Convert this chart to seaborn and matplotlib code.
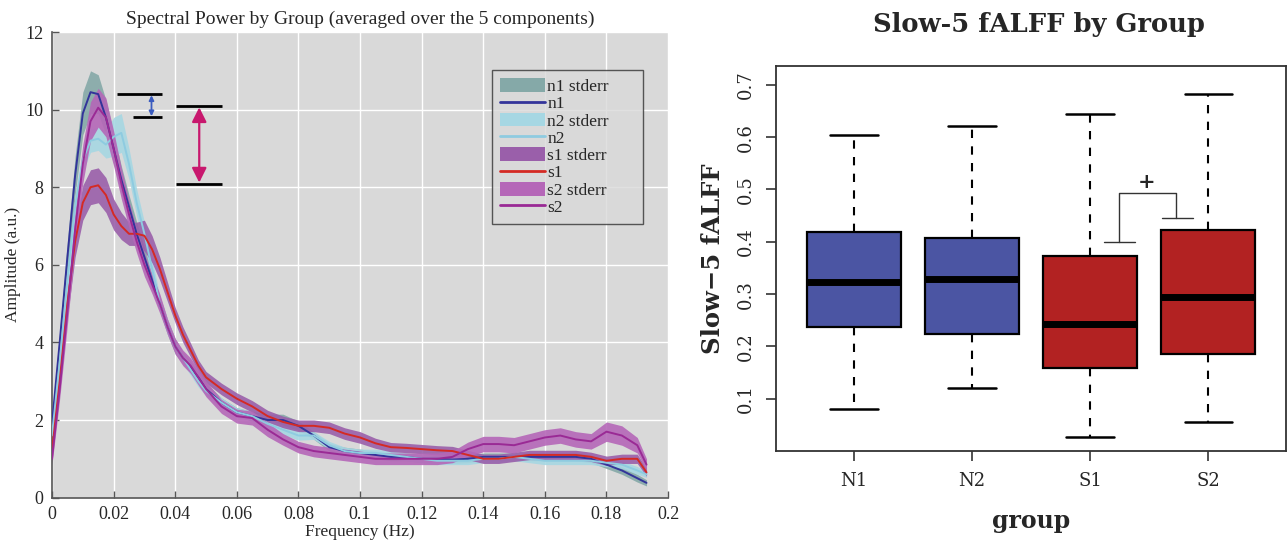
import numpy as np
import pandas as pd
import matplotlib
matplotlib.use("Agg")
import matplotlib.pyplot as plt
from matplotlib.patches import Patch
from matplotlib.lines import Line2D
import seaborn as sns

# ---- spectral power data ----
freq = [0, 0.0025, 0.005, 0.0075, 0.01, 0.0125, 0.015, 0.0175, 0.02, 0.0225,
        0.025, 0.0275, 0.03, 0.0325, 0.035, 0.0375, 0.04, 0.0425, 0.045, 0.0475,
        0.05, 0.055, 0.06, 0.065, 0.07, 0.075, 0.08, 0.085, 0.09, 0.095,
        0.1, 0.105, 0.11, 0.115, 0.12, 0.125, 0.13, 0.135, 0.14, 0.145,
        0.15, 0.155, 0.16, 0.165, 0.17, 0.175, 0.18, 0.185, 0.19, 0.193]

n1 = [1.9, 4.0, 6.2, 8.3, 9.9, 10.45, 10.4, 9.8, 9.0, 8.2,
      7.5, 6.8, 6.2, 5.6, 5.0, 4.4, 3.9, 3.6, 3.35, 3.1,
      2.8, 2.45, 2.2, 2.1, 2.0, 2.0, 1.85, 1.6, 1.3, 1.2,
      1.15, 1.1, 1.05, 1.05, 1.0, 1.0, 0.98, 1.0, 1.05, 1.05,
      1.05, 1.05, 1.05, 1.05, 1.05, 1.0, 0.85, 0.7, 0.5, 0.38]
n1_se = [0.2, 0.3, 0.4, 0.5, 0.55, 0.55, 0.5, 0.45, 0.4, 0.35,
         0.3, 0.3, 0.25, 0.25, 0.2, 0.2, 0.2, 0.15, 0.15, 0.15,
         0.15, 0.12, 0.12, 0.12, 0.15, 0.15, 0.12, 0.1, 0.1, 0.1,
         0.1, 0.1, 0.1, 0.1, 0.1, 0.1, 0.1, 0.1, 0.1, 0.1,
         0.1, 0.1, 0.1, 0.1, 0.1, 0.1, 0.1, 0.1, 0.1, 0.08]

n2 = [1.6, 3.5, 5.6, 7.5, 8.7, 9.2, 9.25, 9.1, 9.3, 9.4,
      8.6, 7.6, 6.8, 5.9, 5.0, 4.4, 3.9, 3.6, 3.3, 3.0,
      2.75, 2.45, 2.2, 2.1, 1.9, 1.75, 1.6, 1.6, 1.35, 1.2,
      1.15, 1.15, 1.1, 1.05, 1.0, 0.95, 0.95, 0.95, 1.0, 1.0,
      1.05, 1.0, 0.95, 0.95, 0.95, 0.95, 0.9, 0.85, 0.7, 0.6]
n2_se = [0.2, 0.25, 0.3, 0.3, 0.3, 0.3, 0.3, 0.35, 0.5, 0.5,
         0.4, 0.35, 0.3, 0.25, 0.2, 0.2, 0.15, 0.15, 0.15, 0.15,
         0.12, 0.12, 0.12, 0.12, 0.12, 0.12, 0.12, 0.1, 0.1, 0.1,
         0.1, 0.1, 0.1, 0.1, 0.1, 0.1, 0.1, 0.1, 0.1, 0.1,
         0.1, 0.1, 0.1, 0.1, 0.1, 0.1, 0.1, 0.1, 0.1, 0.08]

s1 = [1.2, 3.0, 5.0, 6.6, 7.6, 8.0, 8.05, 7.8, 7.3, 7.0,
      6.8, 6.8, 6.75, 6.4, 5.9, 5.3, 4.7, 4.2, 3.8, 3.4,
      3.1, 2.8, 2.55, 2.35, 2.1, 1.95, 1.85, 1.85, 1.8, 1.65,
      1.55, 1.4, 1.3, 1.28, 1.25, 1.22, 1.2, 1.1, 1.0, 1.0,
      1.05, 1.1, 1.1, 1.1, 1.1, 1.05, 0.95, 1.0, 1.0, 0.65]
s1_se = [0.15, 0.25, 0.35, 0.4, 0.45, 0.45, 0.45, 0.45, 0.4, 0.35,
         0.3, 0.3, 0.4, 0.35, 0.3, 0.25, 0.2, 0.2, 0.18, 0.15,
         0.15, 0.15, 0.15, 0.15, 0.15, 0.15, 0.15, 0.15, 0.15, 0.15,
         0.15, 0.13, 0.12, 0.12, 0.12, 0.12, 0.12, 0.12, 0.12, 0.12,
         0.12, 0.12, 0.12, 0.12, 0.12, 0.12, 0.12, 0.12, 0.12, 0.1]

s2 = [1.0, 2.8, 4.8, 6.9, 8.6, 9.7, 10.05, 9.8, 9.0, 8.1,
      7.3, 6.6, 6.0, 5.5, 5.0, 4.4, 3.9, 3.6, 3.4, 3.1,
      2.8, 2.35, 2.1, 2.05, 1.75, 1.5, 1.3, 1.2, 1.15, 1.1,
      1.05, 1.0, 1.0, 1.0, 1.0, 1.0, 1.05, 1.25, 1.38, 1.38,
      1.35, 1.45, 1.55, 1.6, 1.5, 1.45, 1.7, 1.6, 1.35, 0.85]
s2_se = [0.15, 0.25, 0.35, 0.45, 0.5, 0.5, 0.5, 0.5, 0.45, 0.4,
         0.35, 0.3, 0.3, 0.25, 0.25, 0.2, 0.2, 0.2, 0.2, 0.2,
         0.2, 0.18, 0.18, 0.18, 0.18, 0.15, 0.15, 0.15, 0.15, 0.15,
         0.15, 0.15, 0.15, 0.15, 0.15, 0.15, 0.15, 0.18, 0.2, 0.2,
         0.2, 0.2, 0.2, 0.2, 0.2, 0.2, 0.25, 0.25, 0.2, 0.15]

groups_spec = ["n1", "n2", "s1", "s2"]
band_colors = ["#85a9a8", "#a6d7e3", "#9a5faa", "#b567b8"]
line_colors = ["#33349a", "#8ecbe0", "#d42a24", "#9a2a95"]

# ---- fALFF box data: five-number summary per group ----
box_groups = ["N1", "N2", "S1", "S2"]
box_low = [0.080, 0.121, 0.027, 0.056]
box_q1 = [0.238, 0.224, 0.159, 0.186]
box_med = [0.323, 0.328, 0.242, 0.295]
box_q3 = [0.419, 0.408, 0.373, 0.422]
box_high = [0.605, 0.621, 0.644, 0.683]
box_colors = ["#4b55a3", "#4b55a3", "#b22222", "#b22222"]

sns.set_theme(style="white")
plt.rcParams['font.family'] = ['Liberation Serif', 'DejaVu Serif']
plt.rcParams['axes.unicode_minus'] = False

fig = plt.figure(figsize=(12.87, 5.43), dpi=100)

# ================= left: spectral power =================
ax = fig.add_axes([0.0404, 0.0836, 0.4787, 0.8574])
ax.set_facecolor("#d9d9d9")

series = [(n1, n1_se), (n2, n2_se), (s1, s1_se), (s2, s2_se)]
handles = []
for name, (m, se), bc, lc in zip(groups_spec, series, band_colors, line_colors):
    m = np.array(m)
    se = np.array(se)
    ax.fill_between(freq, m - se, m + se, color=bc, alpha=0.9, lw=0, zorder=2)
    sns.lineplot(x=freq, y=m, ax=ax, color=lc, lw=1.4, zorder=3)
    pad = "      " if name == "n1" else ""
    handles.append(Patch(facecolor=bc, edgecolor="none", label=f"{name} stderr" + pad))
    handles.append(Line2D([0], [0], color=lc, lw=2, label=name))

ax.set_xlim(0, 0.2)
ax.set_ylim(0, 12)
ax.set_xticks(np.arange(0, 0.201, 0.02))
ax.set_xticklabels(["0", "0.02", "0.04", "0.06", "0.08", "0.1", "0.12",
                    "0.14", "0.16", "0.18", "0.2"])
ax.set_yticks(np.arange(0, 13, 2))
ax.grid(True, color="white", lw=1)
ax.set_axisbelow(True)
for side in ["top", "right"]:
    ax.spines[side].set_visible(False)
for side in ["left", "bottom"]:
    ax.spines[side].set_color("#555555")
    ax.spines[side].set_linewidth(1.2)
ax.tick_params(direction="in", length=5, width=1, color="#555555",
               labelsize=13, pad=6, bottom=True, left=True)
ax.set_xlabel("Frequency (Hz)", fontsize=12.5, labelpad=1)
ax.set_ylabel("Amplitude (a.u.)", fontsize=12.5, labelpad=3)
ax.set_title("Spectral Power by Group (averaged over the 5 components)",
             fontsize=14, pad=6)

# difference markers
ax.hlines(10.4, 0.0211, 0.0357, color="black", lw=2, zorder=4)
ax.hlines(9.8, 0.0263, 0.0357, color="black", lw=2, zorder=4)
ax.annotate("", xy=(0.0323, 9.83), xytext=(0.0323, 10.37),
            arrowprops=dict(arrowstyle="<|-|>", color="#3a5bbf", lw=1.3,
                            mutation_scale=7, shrinkA=0, shrinkB=0), zorder=4)
ax.hlines(10.1, 0.0403, 0.0553, color="black", lw=2, zorder=4)
ax.hlines(8.08, 0.0403, 0.0553, color="black", lw=2, zorder=4)
ax.annotate("", xy=(0.0478, 8.12), xytext=(0.0478, 10.06),
            arrowprops=dict(arrowstyle="<|-|>", color="#c8186e", lw=1.6,
                            mutation_scale=22, shrinkA=0, shrinkB=0), zorder=4)

leg = ax.legend(handles=handles, loc="upper left", bbox_to_anchor=(0.714, 0.918),
                borderaxespad=0, fontsize=12.5, frameon=True, fancybox=False,
                handlelength=2.6, handleheight=0.85, handletextpad=0.15,
                labelspacing=0.02, borderpad=0.45)
leg.get_frame().set_facecolor("#d9d9d9")
leg.get_frame().set_edgecolor("#333333")
leg.get_frame().set_linewidth(1.0)

# ================= right: fALFF box plot =================
rows = []
for g, lo, q1, md, q3, hi in zip(box_groups, box_low, box_q1, box_med, box_q3, box_high):
    for v in (lo, q1, md, q3, hi):
        rows.append({"group": g, "value": v})
df = pd.DataFrame(rows)

bx = fig.add_axes([0.603, 0.1694, 0.3963, 0.7091])
bx.set_facecolor("white")
sns.boxplot(data=df, x="group", y="value", hue="group", palette=box_colors,
            order=box_groups, whis=(0, 100), width=0.8, linecolor="black",
            linewidth=1.6, legend=False, ax=bx, saturation=1,
            medianprops=dict(color="black", lw=5),
            whiskerprops=dict(color="black", lw=1.5, linestyle=(0, (4, 4))),
            capprops=dict(color="black", lw=1.8))

# significance bracket
bx.plot([2.12, 2.38], [0.400, 0.400], color="#333333", lw=1.0)
bx.plot([2.248, 2.248, 2.73, 2.73], [0.400, 0.494, 0.494, 0.445], color="#333333", lw=1.0)
bx.plot([2.605, 2.869], [0.445, 0.445], color="#333333", lw=1.0)
bx.text(2.48, 0.515, "+", ha="center", va="center", fontsize=15,
        fontweight="bold", family="DejaVu Serif")

bx.set_xlim(-0.66, 3.66)
bx.set_ylim(0.0, 0.736)
bx.set_yticks([0.1, 0.2, 0.3, 0.4, 0.5, 0.6, 0.7])
bx.set_yticklabels(["0.1", "0.2", "0.3", "0.4", "0.5", "0.6", "0.7"],
                   rotation=90, va="center", family="DejaVu Serif")
bx.set_xticks(range(4))
bx.set_xticklabels(box_groups, family="DejaVu Serif")
bx.tick_params(direction="out", length=7, width=1.2, color="#333333",
               labelsize=13, pad=8, bottom=True, left=True)
for side in bx.spines.values():
    side.set_visible(True)
    side.set_color("#333333")
    side.set_linewidth(1.3)
bx.set_xlabel("group", fontsize=17, fontweight="bold", family="DejaVu Serif", labelpad=14)
bx.set_ylabel("Slow\u22125 fALFF", fontsize=17.5, fontweight="bold", family="DejaVu Serif",
              labelpad=9)
fig.text(0.807, 0.955, "Slow-5 fALFF by Group", ha="center", va="center",
         fontsize=18.5, fontweight="bold", family="DejaVu Serif")

fig.savefig("out.png", dpi=100, facecolor="white")
